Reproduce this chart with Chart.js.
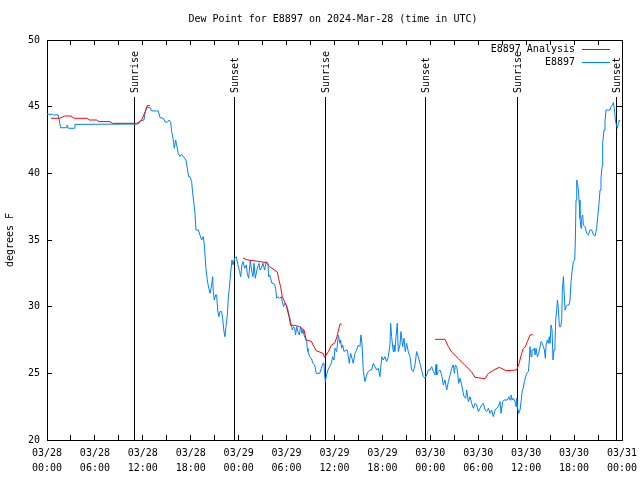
<!DOCTYPE html>
<html lang="en">
  <head>
    <meta charset="UTF-8" />
    <title>Dew Point E8897</title>
    <script src="https://cdn.jsdelivr.net/npm/chart.js"></script>
    <style>
      body { margin: 0; background: #fff; }
    </style>
  </head>
  <body>
    <canvas id="dewChart" width="640" height="480"></canvas>
    <script>
      // hours since 03/28 00:00 UTC, dew point in degrees F
      const analysisPoints = [
        [0.5, 44.13], [1.6, 44.13], [2.2, 44.3], [3.0, 44.3], [3.4, 44.13], [5.0, 44.13], [5.3, 44.0],
        [6.2, 44.0], [6.5, 43.88], [7.9, 43.88], [8.2, 43.75], [11.2, 43.75], [11.6, 43.85],
        [11.9, 44.07], [12.3, 44.63], [12.55, 45.08], [12.9, 45.08],
        null,
        [24.54, 33.63], [25.16, 33.5], [26.42, 33.4], [27.46, 33.3], [27.88, 33.0], [28.84, 32.6],
        [29.0, 32.1], [29.25, 31.5], [29.46, 30.75], [29.96, 30.1], [30.3, 29.25], [30.51, 28.6],
        [31.0, 28.6], [31.63, 28.5], [32.18, 28.25], [32.47, 27.5], [33.1, 27.4], [33.43, 27.0],
        [33.72, 26.7], [34.55, 26.5], [34.76, 26.2], [35.26, 26.65], [35.6, 27.1], [36.06, 27.3],
        [36.3, 27.75], [36.5, 28.25], [36.7, 28.7], [36.9, 28.7],
        null,
        [48.59, 27.55], [49.84, 27.55], [50.26, 27.0], [50.67, 26.6], [51.51, 26.1], [52.34, 25.6],
        [53.18, 25.1], [53.6, 24.7], [54.85, 24.6], [55.27, 25.0], [56.1, 25.3], [56.64, 25.45],
        [57.48, 25.2], [58.81, 25.25], [59.11, 25.75], [59.44, 26.5], [59.65, 26.88], [59.86, 26.95],
        [60.15, 27.38], [60.48, 27.88], [60.82, 27.9]
      ];

      const stationPoints = [
        [0, 44.43], [0.7, 44.43], [0.8, 44.38], [1.4, 44.38], [1.7, 43.42], [2.4, 43.42], [2.5, 43.62],
        [2.67, 43.38], [3.4, 43.38], [3.5, 43.67], [11.43, 43.7], [11.64, 43.93], [12.14, 44.0],
        [12.27, 44.5], [12.48, 44.93], [12.9, 44.93], [13.1, 44.68], [13.94, 44.68], [14.15, 44.18],
        [14.56, 44.13], [14.77, 43.88], [15.06, 43.83], [15.31, 44.0], [15.48, 43.83], [15.61, 43.13],
        [15.82, 42.5], [15.94, 41.88], [16.11, 42.5], [16.23, 42.13], [16.44, 41.5], [16.65, 41.25],
        [16.86, 41.43], [17.07, 41.25], [17.4, 41.0], [17.57, 40.38], [17.74, 39.75], [17.9, 39.75],
        [18.11, 39.38], [18.24, 38.5], [18.4, 37.75], [18.53, 37.0], [18.65, 35.75], [18.95, 35.75],
        [19.15, 35.38], [19.36, 35.0], [19.57, 35.25], [19.7, 34.63], [19.9, 32.88], [20.07, 32.0],
        [20.25, 31.38], [20.41, 31.0], [20.62, 31.63], [20.74, 32.25], [20.82, 31.13], [20.95, 30.5],
        [21.12, 30.88], [21.24, 30.88], [21.37, 29.75], [21.53, 29.25], [21.66, 29.63], [21.87, 29.63],
        [21.99, 29.13], [22.16, 28.13], [22.28, 27.75], [22.41, 28.5], [22.58, 29.38], [22.7, 30.63],
        [22.83, 31.38], [22.99, 32.5], [23.16, 33.5], [23.29, 33.13], [23.49, 33.63], [23.7, 33.75],
        [23.91, 33.13], [24.12, 32.63], [24.25, 32.25], [24.41, 33.13], [24.54, 33.38], [24.75, 32.88],
        [24.96, 33.13], [25.08, 32.5], [25.25, 32.13], [25.46, 33.5], [25.58, 32.88], [25.79, 32.25],
        [25.92, 33.25], [26.08, 32.13], [26.33, 32.88], [26.54, 33.25], [26.67, 32.75], [26.83, 32.88],
        [27.04, 33.25], [27.25, 32.75], [27.46, 33.38], [27.67, 33.25], [27.75, 32.25], [27.88, 32.38],
        [28.0, 32.13], [28.17, 31.75], [28.38, 31.75], [28.5, 31.63], [28.63, 31.38], [28.75, 30.63],
        [28.92, 30.75], [29.13, 30.63], [29.34, 30.75], [29.46, 30.38], [29.63, 30.0], [29.76, 30.25],
        [29.96, 30.13], [30.17, 29.75], [30.3, 29.38], [30.42, 29.13], [30.59, 28.63], [30.72, 28.25],
        [30.88, 28.5], [31.0, 28.38], [31.13, 27.88], [31.26, 28.5], [31.42, 28.13], [31.59, 27.88],
        [31.76, 28.5], [31.93, 28.0], [32.05, 28.25], [32.18, 27.88], [32.34, 27.63], [32.51, 27.38],
        [32.59, 26.88], [32.68, 26.63], [32.89, 26.25], [33.1, 26.13], [33.3, 25.75], [33.51, 25.63],
        [33.72, 25.0], [34.14, 25.0], [34.35, 25.38], [34.55, 25.75], [34.68, 25.75], [34.76, 24.88],
        [34.85, 24.38], [35.01, 24.88], [35.18, 25.25], [35.39, 25.5], [35.6, 25.75], [35.77, 26.25],
        [35.93, 26.0], [36.06, 26.88], [36.27, 26.63], [36.48, 27.88], [36.68, 27.25], [36.77, 27.5],
        [36.89, 26.88], [37.02, 27.13], [37.19, 26.63], [37.44, 26.75], [37.6, 26.75], [37.73, 26.25],
        [37.85, 25.75], [38.02, 26.5], [38.19, 26.13], [38.35, 25.75], [38.56, 26.5], [38.77, 26.75],
        [38.98, 27.13], [39.19, 27.0], [39.31, 27.88], [39.44, 27.25], [39.61, 25.13], [39.81, 24.38],
        [40.02, 24.88], [40.23, 25.13], [40.44, 25.25], [40.65, 25.25], [40.86, 25.75], [41.07, 25.5],
        [41.28, 25.25], [41.48, 25.38], [41.69, 24.75], [41.82, 25.63], [41.94, 26.25], [42.11, 26.0],
        [42.32, 26.25], [42.53, 25.88], [42.74, 26.25], [42.94, 27.13], [43.03, 28.75], [43.15, 27.75],
        [43.36, 26.63], [43.45, 27.13], [43.57, 26.63], [43.7, 27.75], [43.86, 28.75], [43.99, 26.63],
        [44.2, 27.13], [44.32, 28.13], [44.53, 27.0], [44.7, 27.63], [44.86, 26.63], [45.03, 27.25],
        [45.24, 26.63], [45.45, 26.25], [45.66, 25.25], [45.87, 25.13], [46.08, 25.63], [46.28, 26.63],
        [46.49, 26.25], [46.7, 25.75], [46.91, 25.25], [47.12, 24.75], [47.33, 24.63], [47.54, 24.88],
        [47.75, 25.25], [47.95, 25.25], [48.17, 25.5], [48.38, 25.13], [48.59, 24.88], [48.71, 25.67],
        [48.8, 24.88], [49.0, 25.13], [49.21, 25.25], [49.42, 24.88], [49.63, 24.13], [49.84, 24.5],
        [50.05, 23.75], [50.26, 24.38], [50.47, 24.88], [50.67, 25.38], [50.88, 25.63], [51.01, 25.0],
        [51.13, 25.63], [51.3, 25.5], [51.43, 25.0], [51.55, 24.25], [51.72, 24.63], [51.93, 24.13],
        [52.05, 23.75], [52.22, 23.25], [52.43, 23.13], [52.55, 23.75], [52.76, 22.88], [52.97, 23.25],
        [53.18, 22.75], [53.39, 22.38], [53.6, 22.75], [53.8, 22.63], [54.01, 22.13], [54.22, 22.38],
        [54.43, 22.63], [54.64, 22.75], [54.85, 22.25], [55.06, 22.13], [55.27, 22.38], [55.47, 22.0],
        [55.68, 22.25], [55.89, 21.75], [56.1, 22.25], [56.31, 22.38], [56.52, 22.5], [56.73, 22.88],
        [56.85, 22.0], [57.06, 22.88], [57.23, 23.0], [57.48, 23.0], [57.64, 23.0], [57.85, 23.25],
        [57.98, 23.0], [58.1, 23.38], [58.27, 23.0], [58.4, 23.13], [58.6, 22.88], [58.73, 22.5],
        [58.81, 23.13], [58.94, 22.38], [59.06, 22.0], [59.23, 22.25], [59.36, 22.88], [59.52, 23.75],
        [59.65, 23.9], [59.77, 24.38], [59.94, 24.75], [60.07, 25.0], [60.28, 25.13], [60.4, 26.0],
        [60.48, 27.0], [60.61, 26.25], [60.73, 26.75], [60.9, 26.75], [61.03, 26.88], [61.11, 26.38],
        [61.24, 26.88], [61.4, 26.25], [61.57, 26.5], [61.74, 27.0], [61.86, 27.38], [62.03, 27.25],
        [62.15, 27.0], [62.28, 26.75], [62.4, 26.13], [62.49, 27.13], [62.65, 27.5], [62.78, 27.25],
        [62.9, 27.75], [62.99, 27.25], [63.11, 28.63], [63.24, 28.25], [63.36, 26.0], [63.49, 26.75],
        [63.61, 27.25], [63.7, 29.0], [63.82, 29.75], [63.91, 30.5], [64.03, 29.88], [64.16, 28.5],
        [64.32, 28.5], [64.45, 29.0], [64.53, 31.25], [64.66, 32.25], [64.74, 31.25], [64.87, 29.75],
        [65.0, 30.0], [65.16, 30.13], [65.37, 30.13], [65.49, 30.5], [65.62, 31.88], [65.74, 32.63],
        [65.91, 33.38], [66.08, 33.5], [66.16, 35.0], [66.24, 38.0], [66.33, 39.5], [66.45, 39.13],
        [66.54, 38.75], [66.62, 38.0], [66.74, 36.63], [66.87, 35.88], [66.95, 36.63], [67.08, 36.88],
        [67.16, 36.13], [67.37, 36.0], [67.58, 35.5], [67.79, 35.38], [68.0, 35.75], [68.21, 35.75],
        [68.42, 35.38], [68.62, 35.3], [68.83, 35.88], [68.96, 36.75], [69.12, 37.75], [69.25, 38.75],
        [69.37, 39.63], [69.5, 40.5], [69.58, 42.25], [69.75, 43.25], [69.87, 43.88], [70.0, 44.75],
        [70.5, 44.75], [70.63, 45.0], [70.79, 45.13], [70.92, 45.3], [71.04, 44.88], [71.17, 44.0],
        [71.25, 43.75], [71.42, 43.38], [71.54, 43.75], [71.67, 44.0], [71.75, 43.88]
      ];

      const sunHours = [10.89, 23.42, 34.81, 47.33, 58.85, 71.25];
      const sunLabels = ["Sunrise", "Sunset", "Sunrise", "Sunset", "Sunrise", "Sunset"];

      // labels every 6 hours, unlabeled tick every 3 hours
      const tickDays = ["03/28", "03/28", "03/28", "03/28", "03/29", "03/29", "03/29", "03/29", "03/30", "03/30", "03/30", "03/30", "03/31"];
      const tickTimes = ["00:00", "06:00", "12:00", "18:00", "00:00", "06:00", "12:00", "18:00", "00:00", "06:00", "12:00", "18:00", "00:00"];

      const chartTitle = "Dew Point for E8897 on 2024-Mar-28 (time in UTC)";

      const FONT = { family: "'DejaVu Sans Mono', 'Liberation Mono', monospace", size: 10 };
      const toXY = (p) => (p ? { x: p[0], y: p[1] } : { x: NaN, y: null });

      // sunrise / sunset markers, title and the gnuplot style key
      const overlay = {
        id: "overlay",
        beforeDatasetsDraw(chart) {
          const { ctx, chartArea, scales } = chart;
          ctx.save();
          ctx.strokeStyle = "#000";
          ctx.lineWidth = 1;
          ctx.fillStyle = "#000";
          ctx.font = "10px " + FONT.family;
          sunHours.forEach((h, i) => {
            const x = Math.round(scales.x.getPixelForValue(h)) + 0.5;
            ctx.beginPath();
            ctx.moveTo(x, chartArea.top + 57);
            ctx.lineTo(x, chartArea.bottom);
            ctx.stroke();
            ctx.save();
            ctx.translate(x + 1, chartArea.top + 53);
            ctx.rotate(-Math.PI / 2);
            ctx.textAlign = "left";
            ctx.textBaseline = "middle";
            ctx.fillText(sunLabels[i], 0, 0);
            ctx.restore();
          });
          ctx.restore();
        },
        afterDraw(chart) {
          const { ctx, chartArea } = chart;
          ctx.save();
          ctx.font = "10px " + FONT.family;
          ctx.fillStyle = "#000";
          ctx.textAlign = "center";
          ctx.textBaseline = "middle";
          ctx.fillText(chartTitle, 333, 19);
          ctx.textAlign = "right";
          chart.data.datasets.forEach((ds, i) => {
            const y = chartArea.top + 9 + i * 13;
            ctx.fillStyle = "#000";
            ctx.fillText(ds.label, chartArea.right - 47, y);
            ctx.strokeStyle = ds.borderColor;
            ctx.lineWidth = 1;
            ctx.beginPath();
            ctx.moveTo(chartArea.right - 40, Math.round(y) + 0.5);
            ctx.lineTo(chartArea.right - 12, Math.round(y) + 0.5);
            ctx.stroke();
          });
          ctx.restore();
        },
      };

      const axisGrid = { drawOnChartArea: false, drawTicks: true, tickLength: -5, color: "#000" };
      const axisBorder = { color: "#000", width: 1 };

      const ctx = document.getElementById("dewChart").getContext("2d");
      const dewChart = new Chart(ctx, {
        type: "line",
        data: {
          datasets: [
            {
              label: "E8897 Analysis",
              data: analysisPoints.map(toXY),
              borderColor: "#ff0000",
              borderWidth: 1,
              pointRadius: 0,
              spanGaps: false,
              order: 0,
            },
            {
              label: "E8897",
              data: stationPoints.map(toXY),
              borderColor: "#0080ff",
              borderWidth: 1,
              pointRadius: 0,
              order: 1,
            },
          ],
        },
        options: {
          responsive: false,
          animation: false,
          layout: { padding: { left: 0, right: 18, top: 40, bottom: 0 } },
          plugins: {
            legend: { display: false },
            tooltip: { enabled: false },
            title: { display: false },
          },
          scales: {
            x: {
              type: "linear",
              position: "bottom",
              min: 0,
              max: 72,
              afterFit: (s) => {
                s.height = 40;
                s.paddingLeft = 0;
                s.paddingRight = 0;
              },
              ticks: {
                stepSize: 3,
                autoSkip: false,
                maxRotation: 0,
                padding: 11,
                color: "#000",
                font: { ...FONT, lineHeight: 1.5 },
                callback: (v) => (v % 6 === 0 ? [tickDays[v / 6], tickTimes[v / 6]] : ""),
              },
              grid: axisGrid,
              border: axisBorder,
            },
            xTop: {
              type: "linear",
              position: "top",
              min: 0,
              max: 72,
              afterFit: (s) => {
                s.height = 0;
                s.paddingLeft = 0;
                s.paddingRight = 0;
              },
              ticks: { stepSize: 3, display: false },
              grid: axisGrid,
              border: axisBorder,
            },
            y: {
              position: "left",
              min: 20,
              max: 50,
              afterFit: (s) => { s.width = 47; },
              ticks: { stepSize: 5, padding: 12, color: "#000", font: FONT },
              grid: axisGrid,
              border: axisBorder,
              title: { display: true, text: "degrees F", color: "#000", font: FONT, padding: { top: 4, bottom: 0 } },
            },
            yRight: {
              position: "right",
              min: 20,
              max: 50,
              afterFit: (s) => { s.width = 0; },
              ticks: { stepSize: 5, display: false },
              grid: axisGrid,
              border: axisBorder,
            },
          },
        },
        plugins: [overlay],
      });
    </script>
  </body>
</html>
